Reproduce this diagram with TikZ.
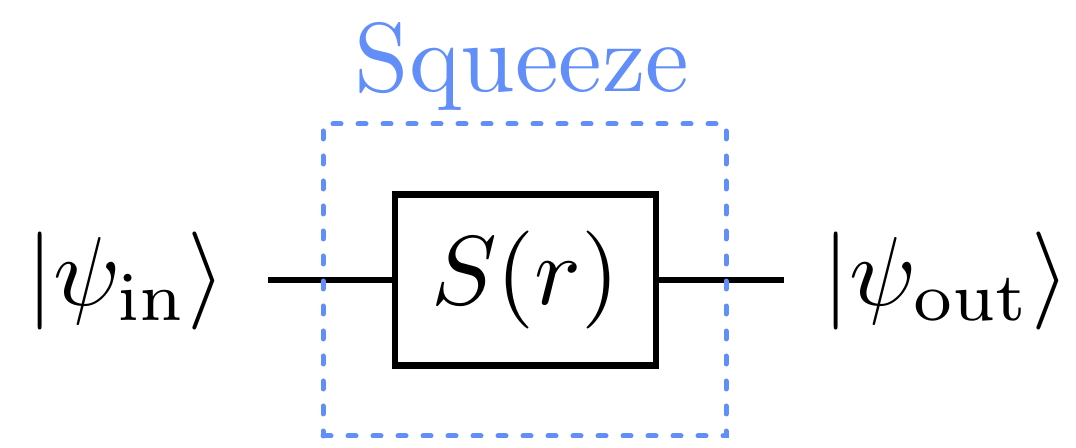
\documentclass[tikz,border=0pt]{standalone}
\definecolor{sqblue}{RGB}{98,142,250}
\newcommand{\bigtxt}[1]{\scalebox{4.9}{#1}}
\tikzset{
  big/.style={inner sep=0pt},
  wire/.style={line width=3.3pt},
  gatebox/.style={draw, line width=3.3pt, minimum width=130.5pt, minimum height=85.5pt, inner sep=0pt},
  groupbox/.style={draw=sqblue, line width=2.5pt, dash pattern=on 4pt off 8.5pt, line cap=round, minimum width=201.5pt, minimum height=156pt, inner sep=0pt},
  grouplabel/.style={text=sqblue, inner sep=0pt, anchor=base}
}
\begin{document}
\begin{tikzpicture}[x=0.5pt,y=-0.5pt]
\useasboundingbox (0,0) rectangle (1076,448);
\node[big] (in) at (126,281) {\bigtxt{$|\psi_{\mathrm{in}}\rangle$}};
\node[big] (out) at (946,281) {\bigtxt{$|\psi_{\mathrm{out}}\rangle$}};
\node[gatebox, big] (gate) at (525.5,280) {\bigtxt{$S(r)$}};
\coordinate (wl) at (268,280);
\coordinate (wr) at (784,280);
\draw[wire] (wl) -- (gate.west);
\draw[wire] (gate.east) -- (wr);
\node[groupbox] (grp) at (524.5,280) {};
\node[grouplabel] (lbl) at (522,92) {\bigtxt{Squeeze}};
\end{tikzpicture}
\end{document}
